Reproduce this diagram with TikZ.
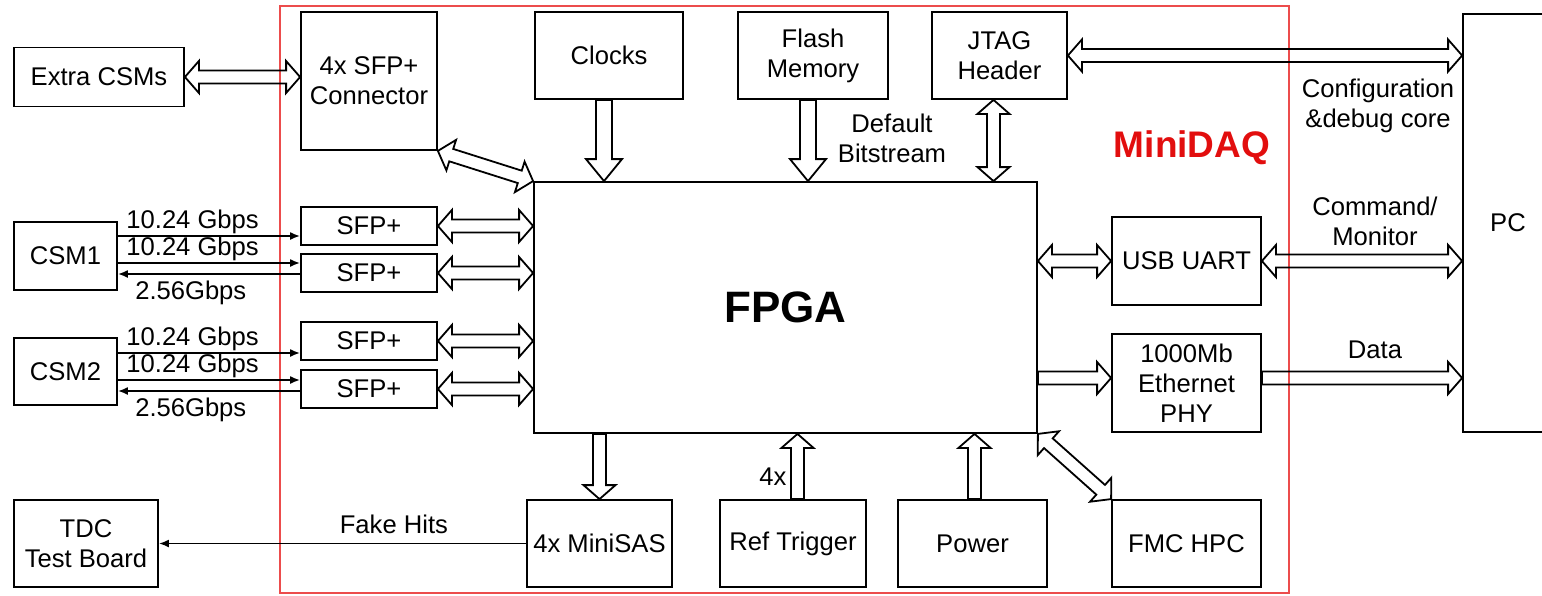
\documentclass[tikz,border=0pt]{standalone}
\usepackage{fontspec}
\setmainfont{Liberation Sans}
\usetikzlibrary{arrows.meta,positioning,calc}
\definecolor{daqframe}{RGB}{236,76,76}
\definecolor{daqred}{RGB}{226,14,14}
\tikzset{
  fatw/.store in=\fatw, fath/.store in=\fath, fatl/.store in=\fatl,
  fatw=3.25pt, fath=8pt, fatl=7pt,
  fat/.style={draw,line width=.9pt,to path={
    ($(\tikztotarget)!\fatl!(\tikztostart)$) coordinate (fc)
    ($(\tikztostart)!\fatw!90:(\tikztotarget)$) -- ($(fc)!\fatw!-90:(\tikztostart)$)
    -- ($(fc)!\fath!-90:(\tikztostart)$) -- (\tikztotarget)
    -- ($(fc)!\fath!90:(\tikztostart)$) -- ($(fc)!\fatw!90:(\tikztostart)$)
    -- ($(\tikztostart)!\fatw!-90:(\tikztotarget)$) -- cycle}},
  fatboth/.style={draw,line width=.9pt,to path={
    ($(\tikztotarget)!\fatl!(\tikztostart)$) coordinate (fc)
    ($(\tikztostart)!\fatl!(\tikztotarget)$) coordinate (fd)
    (\tikztostart) -- ($(fd)!\fath!90:(\tikztotarget)$) -- ($(fd)!\fatw!90:(\tikztotarget)$)
    -- ($(fc)!\fatw!-90:(\tikztostart)$) -- ($(fc)!\fath!-90:(\tikztostart)$) -- (\tikztotarget)
    -- ($(fc)!\fath!90:(\tikztostart)$) -- ($(fc)!\fatw!90:(\tikztostart)$)
    -- ($(fd)!\fatw!-90:(\tikztotarget)$) -- ($(fd)!\fath!-90:(\tikztotarget)$) -- cycle}},
  sig/.style={line width=.9pt,-{Latex[length=5pt,width=4pt]}},
  box/.style={draw,line width=.9pt,align=center,inner sep=1pt},
  lbl/.style={align=center,inner sep=.5pt},
}

\begin{document}
\begin{tikzpicture}[x=.5pt,y=-.5pt,every node/.style={font=\fontsize{12.8}{15}\selectfont}]
\useasboundingbox (0,0) rectangle (1542,595);
\draw[daqframe,line width=1pt] (280,6) rectangle (1289,593);
\node[box,minimum width=85pt,minimum height=29.5pt] (xcsm) at (99,77) {Extra CSMs};
\node[box,minimum width=68pt,minimum height=69pt] (sfpc) at (369,81) {4x SFP+\\Connector};
\node[box,minimum width=74pt,minimum height=43.5pt] (clk) at (609,55.5) {Clocks};
\node[box,minimum width=75pt,minimum height=43.5pt] (flash) at (813,55.5) {Flash\\Memory};
\node[box,minimum width=67.5pt,minimum height=43.5pt] (jtag) at (999.5,55.5) {JTAG\\Header};
\node[box,minimum width=45pt,minimum height=209pt] (pc) at (1508,223) {PC};
\node[box,minimum width=251.5pt,minimum height=125.5pt,font=\fontsize{22}{26}\selectfont\bfseries] (fpga) at (785.5,307.5) {FPGA};
\node[box,minimum width=51.5pt,minimum height=34pt] (csm1) at (65.5,256) {CSM1};
\node[box,minimum width=51.5pt,minimum height=33.5pt] (csm2) at (65.5,371.5) {CSM2};
\node[box,minimum width=68pt,minimum height=19pt] (sfp1) at (369,226) {SFP+};
\node[box,minimum width=68pt,minimum height=19pt] (sfp2) at (369,273) {SFP+};
\node[box,minimum width=68pt,minimum height=19pt] (sfp3) at (369,341) {SFP+};
\node[box,minimum width=68pt,minimum height=19pt] (sfp4) at (369,389) {SFP+};
\node[box,minimum width=74.5pt,minimum height=44pt] (usb) at (1186.5,261) {USB UART};
\node[box,minimum width=74.5pt,minimum height=49pt] (eth) at (1186.5,383) {1000Mb\\Ethernet\\PHY};
\node[box,minimum width=72pt,minimum height=43.5pt] (tdc) at (86,543.5) {TDC\\Test Board};
\node[box,minimum width=72.5pt,minimum height=43.5pt] (msas) at (599.5,543.5) {4x MiniSAS};
\node[box,minimum width=73pt,minimum height=43.5pt] (reft) at (793,543.5) {Ref Trigger};
\node[box,minimum width=74.5pt,minimum height=43.5pt] (pwr) at (972.5,543.5) {Power};
\node[box,minimum width=74.5pt,minimum height=43.5pt] (fmc) at (1186.5,543.5) {FMC HPC};
\node[text=daqred,font=\fontsize{18.5}{22}\selectfont\bfseries] (daq) at (1192,148) {MiniDAQ};
\node[lbl] (dbit) at (892,138) {Default\\Bitstream};
\node[lbl] (cfg) at (1378,106) {Configuration\\\&debug core};
\node[lbl] (cmd) at (1375,221) {Command/\\Monitor};
\node[lbl] (data) at (1375,350) {Data};
\node[lbl] (four) at (773,477) {4x};
\coordinate (clkout) at ([xshift=-2.5pt]clk.south);
\coordinate (flashout) at ([xshift=-2.5pt]flash.south);
\coordinate (jtagio) at ([xshift=-3pt]jtag.south);
\coordinate (reftout) at ([xshift=2.25pt]reft.north);
\coordinate (pwrout) at ([xshift=1pt]pwr.north);
\draw[fatboth] (xcsm.east) to (xcsm.east -| sfpc.west);
\draw[fatboth] (sfpc.south east) to (fpga.north west);
\foreach \s in {sfp1,sfp2,sfp3,sfp4} \draw[fatboth] (\s.east) to (\s.east -| fpga.west);
\draw[fat,fatw=4pt,fath=9pt,fatl=11pt] (clkout) to (clkout |- fpga.north);
\draw[fat,fatw=4pt,fath=9pt,fatl=11pt] (flashout) to (flashout |- fpga.north);
\draw[fatboth] (jtagio) to (jtagio |- fpga.north);
\draw[fatboth] (jtag.east) to (jtag.east -| pc.west);
\draw[fatboth] (usb.west -| fpga.east) to (usb.west);
\draw[fatboth] (usb.east) to (usb.east -| pc.west);
\coordinate (ethin) at ([yshift=2.5pt]eth.west);
\coordinate (ethout) at ([yshift=2.5pt]eth.east);
\draw[fat] (ethin -| fpga.east) to (ethin);
\draw[fat] (ethout) to (ethout -| pc.west);
\draw[fat] (msas.north |- fpga.south) to (msas.north);
\draw[fat] (reftout) to (reftout |- fpga.south);
\draw[fat] (pwrout) to (pwrout |- fpga.south);
\draw[fatboth] (fpga.south east) to (fmc.north west);
\draw[sig] ([yshift=-5pt]sfp1.west -| csm1.east) -- node[lbl,pos=.41,above] {10.24 Gbps} ([yshift=-5pt]sfp1.west);
\draw[sig] ([yshift=5pt]sfp2.west -| csm1.east) -- node[lbl,pos=.41,above] {10.24 Gbps} ([yshift=5pt]sfp2.west);
\draw[sig] ([yshift=-.5pt]sfp2.west) -- node[lbl,pos=.6,below=2.5pt] {2.56Gbps} ([yshift=-.5pt]sfp2.west -| csm1.east);
\draw[sig] ([yshift=-6pt]sfp3.west -| csm2.east) -- node[lbl,pos=.41,above] {10.24 Gbps} ([yshift=-6pt]sfp3.west);
\draw[sig] ([yshift=4.5pt]sfp4.west -| csm2.east) -- node[lbl,pos=.41,above] {10.24 Gbps} ([yshift=4.5pt]sfp4.west);
\draw[sig] ([yshift=-1pt]sfp4.west) -- node[lbl,pos=.6,below=2.5pt] {2.56Gbps} ([yshift=-1pt]sfp4.west -| csm2.east);
\draw[sig] (msas.west) -- node[lbl,pos=.36,above=4pt] {Fake Hits} (msas.west -| tdc.east);
\end{tikzpicture}
\end{document}
